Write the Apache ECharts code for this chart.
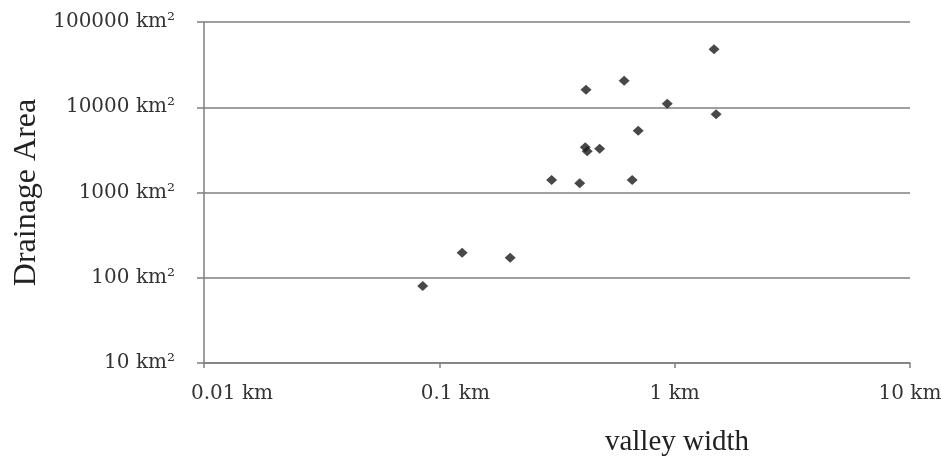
<!DOCTYPE html>
<html>
<head>
<meta charset="utf-8">
<script src="https://cdn.jsdelivr.net/npm/echarts@6/dist/echarts.min.js"></script>
<style>
  html, body { margin: 0; padding: 0; background: #fff; }
  #chart { width: 941px; height: 462px; }
</style>
</head>
<body>
<div id="chart"></div>
<script>
// valley width (km)
const valleyWidth = [1.47, 0.61, 0.42, 0.93, 1.5, 0.70, 0.417, 0.425, 0.48, 0.30, 0.395, 0.66, 0.125, 0.2, 0.085];
// drainage area (km^2)
const drainageArea = [48000, 20500, 16000, 11000, 8300, 5300, 3400, 3050, 3250, 1400, 1280, 1400, 197, 172, 80];
const xTickLabels = ['0.01 km', '0.1 km', '1 km', '10 km'];
const yTickLabels = ['10 km²', '100 km²', '1000 km²', '10000 km²', '100000 km²'];
const xTitle = 'valley width';
const yTitle = 'Drainage Area';

const points = valleyWidth.map((w, i) => [w, drainageArea[i]]);
const serif = '"Liberation Serif", "Times New Roman", serif';
const tickFont = '"DejaVu Serif", "Liberation Serif", serif';
const gray = '#7f7f7f';
// per-label left padding (styling only) to offset x tick labels like the original
const xLabelStyles = ['s0', 's1', 's2', 's3'];
const rich = {
  s0: { padding: [0, 0, 0, 56] },
  s1: { padding: [0, 0, 0, 32] },
  s2: { padding: [0, 0, 0, 0] },
  s3: { padding: [0, 0, 0, 0] }
};
Object.keys(rich).forEach(k => Object.assign(rich[k], { fontFamily: tickFont, fontSize: 20, color: '#333' }));

const chart = echarts.init(document.getElementById('chart'));
chart.setOption({
  animation: false,
  backgroundColor: '#fff',
  grid: { left: 204, right: 31, top: 22, bottom: 99, containLabel: false, outerBoundsMode: 'none' },
  title: {
    text: xTitle,
    left: 672, top: 423,
    textAlign: 'center',
    textStyle: { fontFamily: serif, fontSize: 29, fontWeight: 'normal', color: '#222' }
  },
  xAxis: {
    type: 'log', logBase: 10, min: 0.01, max: 10,
    axisLine: { show: true, lineStyle: { color: gray, width: 1.5 } },
    axisTick: { show: true, inside: false, length: 5, lineStyle: { color: gray, width: 1.5 } },
    minorTick: { show: false },
    splitLine: { show: false },
    axisLabel: {
      margin: 21, color: '#333', fontFamily: tickFont, fontSize: 20,
      rich: rich,
      formatter: v => {
        const i = Math.round(Math.log10(v)) + 2;
        return '{' + xLabelStyles[i] + '|' + xTickLabels[i] + '}';
      }
    }
  },
  yAxis: {
    type: 'log', logBase: 10, min: 10, max: 100000,
    name: yTitle, nameLocation: 'middle', nameGap: 160, nameRotate: 90,
    nameTextStyle: { fontFamily: serif, fontSize: 32, color: '#222' },
    axisLine: { show: true, lineStyle: { color: gray, width: 1.5 } },
    axisTick: { show: true, inside: false, length: 7, lineStyle: { color: gray, width: 1.5 } },
    splitLine: { show: true, lineStyle: { color: gray, width: 1.5 } },
    axisLabel: {
      margin: 29, color: '#333', fontFamily: tickFont, fontSize: 20,
      formatter: v => yTickLabels[Math.round(Math.log10(v)) - 1]
    }
  },
  series: [{
    type: 'scatter',
    data: points,
    symbol: 'diamond',
    symbolSize: [11, 10],
    itemStyle: { color: '#1a1a1a' }
  }]
});
</script>
</body>
</html>
